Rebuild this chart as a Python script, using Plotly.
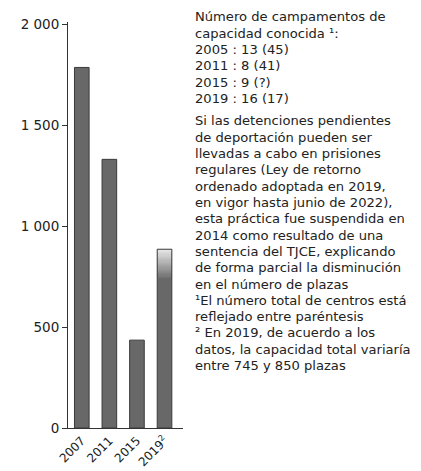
import plotly.graph_objects as go

# capacity (places) of detention centres
years = ["2007", "2011", "2015", "2019<sup>2</sup>"]
places = [1785, 1330, 435, 885]
# 2019: range given in the footnote, top part of the bar is faded
low_2019 = 745
high_2019 = 885

y_ticks = [0, 500, 1000, 1500, 2000]
y_labels = ["0", "500", "1 000", "1 500", "2 000"]

note_top = [
    "Número de campamentos de",
    "capacidad conocida ¹:",
    "2005 : 13 (45)",
    "2011 : 8 (41)",
    "2015 : 9 (?)",
    "2019 : 16 (17)",
]
note_bottom = [
    "Si las detenciones pendientes",
    "de deportación pueden ser",
    "llevadas a cabo en prisiones",
    "regulares (Ley de retorno",
    "ordenado adoptada en 2019,",
    "en vigor hasta junio de 2022),",
    "esta práctica fue suspendida en",
    "2014 como resultado de una",
    "sentencia del TJCE, explicando",
    "de forma parcial la disminución",
    "en el número de plazas",
    "¹El número total de centros está",
    "reflejado entre paréntesis",
    "² En 2019, de acuerdo a los",
    "datos, la capacidad total variaría",
    "entre 745 y 850 plazas",
]

# the page body has an 8px margin, so the figure starts at (8, 8)
OFF = 8
W, H = 421 - 2 * OFF, 471 - OFF
L, T = 68 - OFF, 22 - OFF
R = W - (183 - OFF)
B = H - (428 - OFF)
FONT = "DejaVu Sans"
BAR_FILL = "#686868"
BAR_LINE = "#3a3a3a"

fig = go.Figure()

fig.add_trace(go.Bar(x=years, y=places, width=0.53,
                     marker=dict(color=BAR_FILL, line=dict(width=0))))

# fake vertical gradient on the uncertain part of the 2019 bar
n = 24
step = (high_2019 - low_2019) / n
bases, cols = [], []
for k in range(n):
    bases.append(low_2019 + k * step)
    t = (k + 0.5) / n
    g = int(112 + (232 - 112) * t)
    cols.append(f"rgb({g},{g},{g})")
fig.add_trace(go.Bar(x=[years[3]] * n, y=[step] * n, base=bases, width=0.53,
                     marker=dict(color=cols, line=dict(width=0))))

# outlines on top
fig.add_trace(go.Bar(x=years, y=places, width=0.53,
                     marker=dict(color="rgba(0,0,0,0)",
                                 line=dict(color=BAR_LINE, width=1))))

fig.update_layout(
    width=W, height=H,
    margin=dict(l=L, r=R, t=T, b=B),
    barmode="overlay",
    showlegend=False,
    plot_bgcolor="white", paper_bgcolor="white",
    font=dict(family=FONT, color="#222"),
)
fig.update_xaxes(type="category", range=[-0.5, 3.67], automargin=False,
                 showline=True, linecolor="#333", linewidth=1,
                 showgrid=False, ticks="", tickangle=-45,
                 tickfont=dict(size=12, color="#222"))
fig.update_yaxes(range=[0, 2010], tickvals=y_ticks, ticktext=y_labels,
                 automargin=False,
                 showline=True, linecolor="#333", linewidth=1,
                 ticks="outside", ticklen=5, tickcolor="#333",
                 showgrid=False, zeroline=False,
                 tickfont=dict(size=13.5, color="#222"))

plot_h = H - T - B


def py(y_px):
    # page pixel -> paper y
    return (H - B - (y_px - OFF)) / plot_h


text_x = (193 - 68) / (W - L - R)
line_h = 16.3
for i, line in enumerate(note_top):
    fig.add_annotation(text=line, xref="paper", yref="paper", x=text_x, y=py(17 + i * line_h),
                       xanchor="left", yanchor="middle", showarrow=False,
                       font=dict(size=13.1, color="#222"))
for i, line in enumerate(note_bottom):
    fig.add_annotation(text=line, xref="paper", yref="paper", x=text_x, y=py(121 + i * line_h),
                       xanchor="left", yanchor="middle", showarrow=False,
                       font=dict(size=13.1, color="#222"))

fig.write_html("out.html")
